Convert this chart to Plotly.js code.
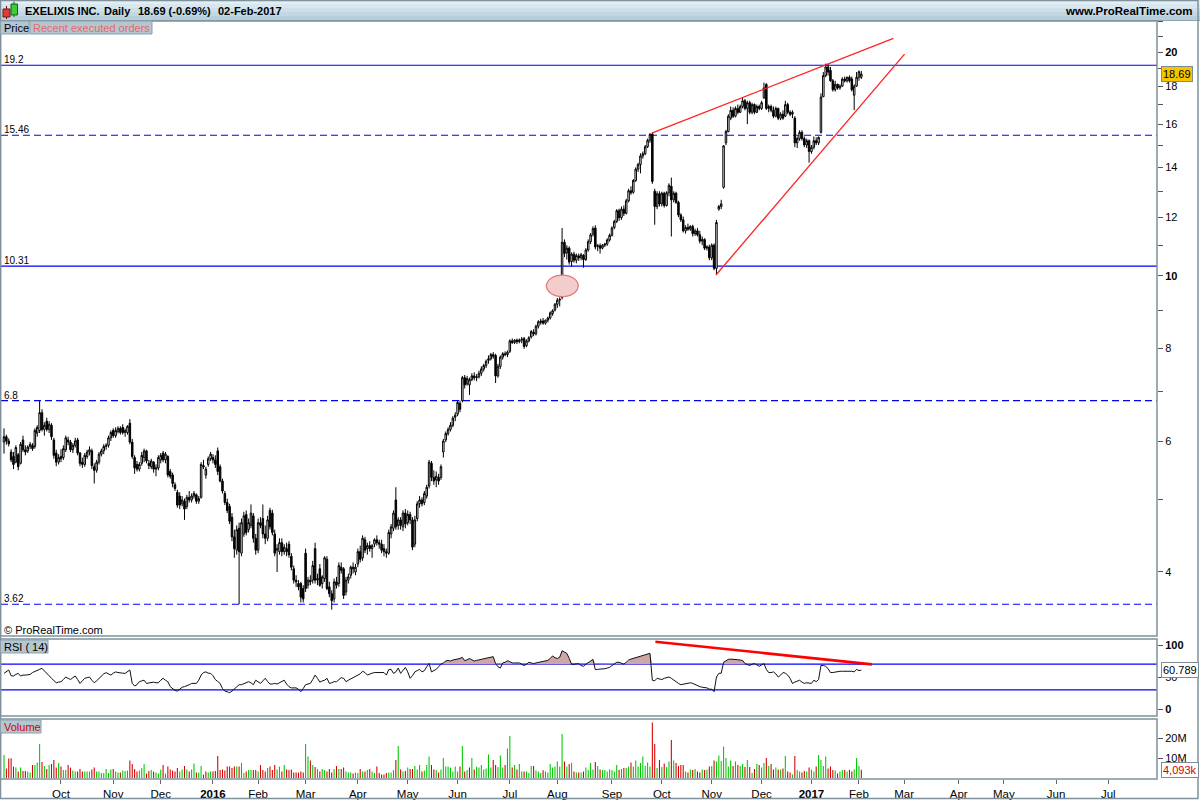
<!DOCTYPE html>
<html>
<head>
<meta charset="utf-8">
<script src="https://cdn.plot.ly/plotly-3.0.1.min.js"></script>
<style>
html,body{margin:0;padding:0;background:#ffffff;}
#chart{width:1200px;height:800px;}
</style>
</head>
<body>
<div id="chart"></div>
<script>
// ---------------- DATA ----------------
const instrument = 'EXELIXIS INC.';
const period = 'Daily';
const startDate = '2015-08-27';
const calendarEnd = '2017-08-01';
const holidays = ['2015-09-07','2015-11-26','2015-12-25','2016-01-01','2016-01-18','2016-02-15','2016-03-25','2016-05-30','2016-07-04','2016-09-05','2016-11-24','2016-12-26','2017-01-02','2017-01-16','2017-02-20','2017-04-14','2017-05-29','2017-07-04'];
const monthLabels = ['Oct','Nov','Dec','<b>2016</b>','Feb','Mar','Apr','May','Jun','Jul','Aug','Sep','Oct','Nov','Dec','<b>2017</b>','Feb','Mar','Apr','May','Jun','Jul'];

const openP = [
5.98,6.08,6.00,5.80,5.72,5.62,5.75,5.60,6.02,5.84,
5.82,5.90,5.92,5.90,6.15,6.20,6.55,6.22,6.38,6.22,
6.30,6.02,5.78,5.62,5.72,5.70,5.84,6.02,5.98,5.84,
5.92,6.02,5.78,5.62,5.58,5.72,5.80,5.82,5.54,5.48,
5.62,5.76,5.82,5.90,5.92,6.06,6.20,6.10,6.18,6.24,
6.26,6.16,6.16,6.34,5.98,5.70,5.58,5.50,5.60,5.70,
5.82,5.60,5.54,5.62,5.50,5.52,5.66,5.78,5.66,5.72,
5.46,5.40,5.24,5.12,5.06,4.94,4.98,4.90,5.04,5.00,
5.06,5.08,4.98,5.04,5.56,5.40,5.58,5.68,5.70,5.66,
5.82,5.54,5.30,5.10,4.96,4.90,4.74,4.46,4.28,4.58,
4.24,4.50,4.78,4.56,4.62,4.76,4.44,4.28,4.66,4.72,
4.50,4.44,4.84,4.80,4.50,4.28,4.26,4.38,4.26,4.30,
4.36,4.20,4.04,3.90,3.86,3.86,3.80,4.24,3.84,3.90,
3.90,4.30,3.90,4.04,3.86,3.92,4.16,3.82,3.74,3.68,
3.88,3.86,4.06,4.04,3.76,3.90,3.96,4.06,4.00,4.10,
4.26,4.18,4.42,4.30,4.34,4.30,4.36,4.42,4.38,4.36,
4.30,4.26,4.24,4.50,4.58,5.00,4.62,4.70,4.60,4.80,
4.66,4.78,4.70,4.36,4.72,4.94,5.00,4.96,5.06,5.22,
5.60,5.36,5.32,5.36,5.36,5.80,6.02,6.14,6.22,6.30,
6.46,6.52,6.74,6.80,7.30,7.16,7.14,7.26,7.34,7.30,
7.32,7.40,7.50,7.58,7.70,7.74,7.84,7.82,7.34,7.56,
7.78,7.86,7.84,7.92,8.18,8.14,8.20,8.16,8.20,8.24,
8.06,8.18,8.28,8.40,8.36,8.56,8.66,8.70,8.64,8.72,
8.78,8.90,9.00,9.16,9.28,9.36,11.10,10.74,10.90,10.46,
10.70,10.50,10.64,10.58,10.66,10.52,10.84,11.12,11.38,11.60,
10.96,10.98,10.90,11.00,11.04,11.18,11.34,11.62,11.84,12.24,
11.98,12.30,12.14,12.62,13.02,12.96,13.44,13.92,14.12,14.50,
14.60,14.92,15.22,15.52,13.00,12.40,12.90,12.50,12.92,12.44,
12.94,13.20,12.66,12.92,12.56,12.08,11.90,11.50,11.62,11.56,
11.66,11.40,11.50,11.36,11.14,11.20,10.90,10.94,10.58,11.00,
10.24,12.30,12.40,13.16,15.10,15.64,16.30,16.70,16.40,16.80,
16.60,16.90,17.20,16.80,17.10,16.60,17.00,16.60,16.90,16.80,
17.36,18.10,16.80,16.90,16.70,16.40,16.80,16.30,16.50,16.40,
17.00,16.60,16.50,16.30,15.10,15.30,15.60,15.30,15.00,15.20,
14.70,14.90,15.20,15.10,15.60,17.42,18.60,19.10,18.90,18.30,
17.80,18.10,17.90,18.00,18.40,18.30,18.50,18.40,17.50,18.00,
18.50,18.50];

const highP = [
6.24,6.12,6.05,5.85,5.80,5.92,5.78,5.98,6.10,5.92,
5.92,5.98,5.96,6.24,6.30,6.79,6.62,6.36,6.45,6.38,
6.34,6.06,5.84,5.76,5.85,5.92,6.10,6.08,6.02,5.96,
6.06,6.06,5.80,5.70,5.78,5.84,5.90,5.86,5.60,5.66,
5.80,5.86,5.94,5.96,6.10,6.20,6.24,6.26,6.28,6.28,
6.32,6.24,6.30,6.42,6.04,5.74,5.64,5.62,5.80,5.86,
5.84,5.66,5.68,5.64,5.58,5.74,5.78,5.82,5.80,5.74,
5.50,5.44,5.28,5.16,5.12,5.06,5.02,5.08,5.14,5.10,
5.14,5.10,5.06,5.62,5.66,5.54,5.72,5.80,5.76,5.74,
5.88,5.58,5.34,5.14,5.02,4.94,4.80,4.56,4.62,4.66,
4.72,4.82,4.84,4.72,4.93,4.80,4.50,4.72,4.74,4.93,
4.62,4.76,4.88,4.85,4.56,4.36,4.44,4.44,4.36,4.38,
4.40,4.24,4.08,3.96,3.90,3.88,3.84,4.30,3.94,3.96,
4.14,4.38,3.98,4.10,3.96,4.20,4.20,3.88,3.78,3.92,
3.94,4.12,4.12,4.06,3.94,3.98,4.08,4.12,4.10,4.30,
4.34,4.48,4.46,4.38,4.40,4.36,4.44,4.48,4.42,4.42,
4.36,4.30,4.56,4.64,4.84,5.20,4.74,4.74,4.84,4.86,
4.84,4.82,4.74,4.76,4.98,5.06,5.04,5.14,5.24,5.66,
5.64,5.48,5.46,5.42,5.58,6.04,6.18,6.26,6.36,6.48,
6.56,6.80,6.80,7.34,7.36,7.34,7.30,7.40,7.42,7.38,
7.46,7.56,7.62,7.72,7.82,7.88,7.90,7.86,7.62,7.82,
7.90,7.92,7.94,8.22,8.24,8.22,8.24,8.24,8.28,8.28,
8.22,8.30,8.46,8.48,8.60,8.72,8.76,8.78,8.74,8.82,
8.96,9.02,9.20,9.34,9.36,11.60,11.20,11.00,10.96,10.76,
10.78,10.72,10.72,10.74,10.70,10.90,11.20,11.42,11.66,11.70,
11.04,11.06,11.04,11.08,11.24,11.40,11.66,11.90,12.30,12.32,
12.40,12.44,12.70,13.10,13.20,13.50,14.00,14.20,14.62,14.70,
15.00,15.30,15.56,15.60,13.10,13.00,13.00,12.98,12.98,13.00,
13.32,13.56,13.00,12.98,12.62,12.14,12.02,11.70,11.76,11.70,
11.72,11.58,11.60,11.50,11.30,11.24,11.00,11.02,11.06,11.06,
11.90,12.46,12.66,15.00,15.72,16.50,16.90,16.86,16.90,17.00,
17.00,17.36,17.30,17.20,17.20,17.10,17.06,17.00,17.00,17.20,
18.20,18.16,17.00,17.00,16.90,16.90,16.84,16.60,16.70,17.20,
17.10,16.70,16.70,16.40,15.40,15.70,15.70,15.40,15.30,15.26,
15.00,15.40,15.36,15.40,17.60,18.80,19.30,19.30,19.10,18.40,
18.30,18.14,18.10,18.50,18.54,18.54,18.60,18.54,18.10,18.80,
18.90,18.86];

const lowP = [
5.77,5.93,5.90,5.62,5.50,5.60,5.48,5.58,5.80,5.74,
5.78,5.85,5.82,5.86,6.08,6.15,6.18,6.10,6.18,6.15,
6.02,5.68,5.55,5.58,5.62,5.66,5.80,5.92,5.80,5.78,
5.88,5.74,5.55,5.52,5.54,5.68,5.74,5.50,5.26,5.44,
5.58,5.72,5.76,5.84,5.88,6.00,6.06,6.06,6.14,6.12,
6.12,6.08,6.12,5.94,5.68,5.42,5.46,5.46,5.56,5.62,
5.60,5.50,5.50,5.44,5.38,5.48,5.60,5.62,5.60,5.36,
5.34,5.20,5.14,4.88,4.86,4.90,4.70,4.86,4.96,4.96,
5.02,4.94,4.94,5.02,5.50,5.34,5.54,5.64,5.60,5.52,
5.40,5.28,5.10,4.92,4.80,4.64,4.40,4.18,4.22,3.62,
4.20,4.46,4.48,4.52,4.58,4.38,4.22,4.24,4.58,4.44,
4.36,4.40,4.56,4.48,4.20,4.00,4.22,4.20,4.22,4.20,
4.18,4.02,3.86,3.82,3.78,3.64,3.64,3.76,3.80,3.84,
3.86,3.86,3.84,3.82,3.80,3.88,3.78,3.70,3.56,3.64,
3.80,3.82,3.98,3.68,3.72,3.86,3.92,3.98,3.96,4.06,
4.12,4.14,4.24,4.22,4.26,4.18,4.32,4.34,4.30,4.24,
4.20,4.18,4.22,4.44,4.54,4.56,4.56,4.56,4.54,4.58,
4.62,4.64,4.28,4.32,4.68,4.88,4.90,4.92,5.02,5.18,
5.30,5.24,5.20,5.24,5.32,5.70,5.98,6.10,6.18,6.26,
6.38,6.48,6.56,6.76,7.06,7.12,6.92,7.22,7.24,7.22,
7.28,7.34,7.44,7.52,7.62,7.70,7.74,7.18,7.30,7.50,
7.72,7.80,7.78,7.88,8.10,8.10,8.10,8.12,8.12,7.98,
8.02,8.14,8.24,8.30,8.32,8.50,8.60,8.60,8.60,8.66,
8.74,8.84,8.96,9.06,9.10,9.30,10.60,10.52,10.36,10.30,
10.42,10.40,10.48,10.50,10.26,10.48,10.78,11.04,11.30,10.86,
10.80,10.72,10.86,10.94,10.98,11.12,11.30,11.56,11.78,11.86,
11.90,12.04,12.10,12.56,12.86,12.90,13.38,13.80,13.74,14.38,
14.54,14.86,15.10,13.30,11.72,12.30,12.40,12.40,12.36,12.40,
12.80,11.30,12.56,12.50,12.00,11.82,11.44,11.40,11.50,11.50,
11.30,11.32,11.30,11.06,11.00,10.84,10.82,10.50,10.50,10.18,
10.03,12.24,12.30,13.10,15.00,15.60,16.20,16.30,16.34,16.50,
16.56,16.80,16.70,16.00,16.50,16.50,16.50,16.56,16.70,16.72,
17.30,16.72,16.60,16.60,16.30,16.34,16.20,16.20,16.22,16.36,
16.50,16.40,16.30,14.90,14.86,15.20,15.20,14.90,14.86,14.20,
14.60,14.80,15.00,15.00,15.55,17.40,18.50,18.60,18.24,17.70,
17.70,17.80,17.80,17.96,18.20,18.20,18.20,17.70,16.71,17.96,
18.30,18.40];

const closeP = [
6.08,6.00,5.95,5.66,5.58,5.88,5.54,5.94,5.84,5.80,
5.89,5.94,5.86,6.20,6.26,6.55,6.22,6.30,6.22,6.32,
6.08,5.74,5.62,5.70,5.68,5.86,6.06,5.98,5.84,5.92,
6.00,5.78,5.60,5.58,5.74,5.80,5.84,5.56,5.48,5.62,
5.76,5.82,5.90,5.92,6.06,6.16,6.10,6.20,6.24,6.16,
6.16,6.20,6.28,5.98,5.72,5.52,5.50,5.58,5.74,5.82,
5.64,5.56,5.64,5.50,5.52,5.70,5.74,5.66,5.76,5.40,
5.38,5.26,5.18,4.92,4.92,5.00,4.86,5.04,5.00,5.06,
5.10,4.98,5.02,5.58,5.54,5.50,5.68,5.76,5.66,5.58,
5.46,5.30,5.14,4.96,4.84,4.68,4.46,4.30,4.56,4.26,
4.66,4.76,4.52,4.66,4.80,4.44,4.28,4.66,4.62,4.50,
4.44,4.70,4.60,4.52,4.24,4.30,4.38,4.26,4.32,4.26,
4.22,4.06,3.90,3.88,3.82,3.70,3.68,3.80,3.90,3.88,
4.08,3.90,3.92,3.84,3.94,4.18,3.80,3.74,3.66,3.88,
3.84,4.08,4.02,3.72,3.90,3.94,4.06,4.04,4.06,4.26,
4.16,4.44,4.28,4.34,4.30,4.34,4.42,4.38,4.36,4.28,
4.26,4.24,4.52,4.60,4.80,4.60,4.70,4.62,4.80,4.64,
4.78,4.70,4.32,4.70,4.94,5.00,4.94,5.10,5.20,5.62,
5.36,5.30,5.38,5.30,5.54,6.00,6.14,6.22,6.30,6.44,
6.50,6.76,6.62,7.30,7.14,7.28,7.26,7.34,7.30,7.32,
7.40,7.50,7.58,7.68,7.74,7.84,7.80,7.34,7.56,7.78,
7.86,7.84,7.90,8.18,8.14,8.20,8.16,8.20,8.22,8.04,
8.18,8.26,8.42,8.36,8.56,8.68,8.70,8.64,8.72,8.78,
8.92,8.98,9.16,9.28,9.30,11.10,10.72,10.90,10.44,10.70,
10.50,10.66,10.58,10.68,10.52,10.84,11.12,11.36,11.58,10.94,
10.98,10.90,11.00,11.04,11.18,11.34,11.60,11.84,12.24,11.98,
12.30,12.14,12.62,13.02,12.94,13.44,13.92,14.12,14.50,14.60,
14.92,15.22,15.50,13.40,12.40,12.90,12.50,12.92,12.44,12.94,
13.24,12.66,12.92,12.56,12.08,11.90,11.50,11.62,11.56,11.66,
11.40,11.50,11.36,11.14,11.20,10.90,10.94,10.58,11.00,10.24,
11.80,12.40,12.50,14.96,15.64,16.40,16.70,16.40,16.80,16.60,
16.90,17.20,16.80,17.10,16.60,17.00,16.60,16.90,16.80,17.10,
17.90,16.80,16.90,16.70,16.40,16.80,16.30,16.50,16.30,17.00,
16.60,16.50,16.60,15.10,15.30,15.60,15.30,15.00,15.20,14.70,
14.90,15.20,15.10,15.36,17.40,18.60,19.10,18.80,18.30,17.80,
18.10,17.90,18.00,18.40,18.30,18.50,18.30,17.80,18.00,18.50,
18.82,18.69];

// volume in millions of shares
const volumeM = [
11.5,4.8,9.8,9.9,5.7,5.2,3.2,5.2,3.5,3.5,
3.2,2.7,6.5,6.5,7.8,17,8,6,4.5,6.5,
7,9,5.3,7.5,5.7,4,4,6.5,5.2,3.7,
3.2,3.2,4.5,3.2,3.2,3.2,3.2,4.3,5.2,3.2,
3.2,2.5,2.5,4.5,2.5,4.3,4.5,3.2,2.7,2.7,
3.7,3.5,3.7,8.7,7,4.5,3.2,3.7,5,7,
2.2,3.5,4,3.2,2.7,2.2,4.3,6.5,2.2,5.7,
4.3,3.7,3.2,5,3.2,4.3,6,4.3,3.2,4.3,
7.3,2.7,2.7,6,1.7,3.2,2.7,3.2,3.2,3.5,
11,4,4.3,3.7,5.7,5.7,5,5.7,5.7,5.7,
7.5,2.5,3.2,4,4,4,4,3.2,6.5,4,
3.2,5,5.7,4,6.5,4.3,5.7,3.2,6.5,4.3,
4,4.3,2.7,2.7,2.7,3.2,2.7,17,10.7,8.7,
6.5,5.5,4.5,3.2,4.5,4,3.2,4.5,2.7,4.5,
6,4.5,4.5,5.2,3.2,2.7,2.7,2.2,2.7,2.5,
4.5,3.2,3.2,4,4.5,3.2,2.5,5.7,2.5,1.7,
1.7,2.5,2.7,2.7,4,9,16,4.3,3.2,3.5,
5.2,4.5,4.5,6,4.3,6.5,3.2,3.7,6.5,10.7,
6.5,4.3,4,2.7,4.3,10,5.7,5.7,5.2,3.2,
5.7,3.2,5.7,16,3.2,4,5.2,10,4.3,5.7,
5.2,6.5,4.3,4.8,11.7,5.2,9,6.5,5.5,11.3,
5.2,6.5,14.7,21,5.2,6.5,4.3,7,3.2,3.2,
3.2,2.5,6,6,3.7,3.2,2.5,3.9,3.2,2.7,
7,5.2,5.7,8.3,5.7,22,8.3,5.7,7,7.6,
3.2,2.7,2.7,2.7,3.2,5.2,4,7.5,4.3,8,
6,4.3,4,4,3.2,4.3,4,3.2,6.5,4,
4.5,5,5,5.7,7.8,5.7,8.7,5.7,7.5,10.7,
6,7.8,5.7,27.7,17,5,9,5.5,7.2,5.5,
8.3,19,8.7,7.5,6,6.5,6.5,3.2,2.7,4.3,
4,4.5,3.2,2.7,4.3,4,4.3,5.7,6,8.7,
8.3,11.3,8.5,15.8,10,5.7,8.7,6,8.3,6.5,
6,7,5.5,9,5.5,2.5,4.5,7,6.5,5.2,
7.5,10,6,7,4.3,5.2,4.3,4.3,4.8,11,
3.2,2.7,1.7,11,4,3.2,2.7,3.5,3.2,5.2,
4.3,3.2,5.7,11.5,9,6,10.7,4.8,5.7,4,
3.7,2.2,3.2,4,4,3.2,4,3.2,4.3,10,
6,4.093];

const rsi14 = [
55.7,58,61,52,51.6,54,55.7,51.5,53,53,
53,54,57,59,61,62,63.5,60,57,52,
48,44,41,42,42.7,46,50,48,46,49,
51.6,46,40,44,48,49,50,45,41,44,
48,52,55,56.8,55,53,56,58,57,57,
56,55.7,58,61,40,36,38,42.7,44,45,
40,41,41,42,41,41,45,48,45,42.7,
35,32,29,28,31,34,35,36,38,40,
40,40,45,53,57,58,56,55.7,52,46,
43,40,32,28,27,25.5,28,31,34,38,
38,40,41,42.7,41,38,45,43,40,44,
48,43,39,39,40,39,41,43,45,39,
35,33,33,33,31,27,32,38,39,40,
46,53,48,42,44,45,48,40,41,42.7,
42.7,46,49,48,42.7,45,47,50,51,53,
55,59,57,53,55,56,57,57,57,57,
57,53,61.5,62,55.7,58,64,55.7,60,65,
58,48,52,58,60,62,58,60,66,71.4,
58,60,62,66,70,72,75,76,75,76.5,
77,77.6,79,80.7,75.5,77,79,77,75,76,
77,77.6,78,79,80,81,81.8,71,66,64,
72,73,75.5,74,72,72,72,72,70,68,
70,73,72,71,72,73,73,74,75,76,
79,83,80,79,81,91,89,87,79,70,
70,71,71,68,66.7,70,72,75,77.6,61.5,
62,62,62,63,64,65,68,71,73,73,
72,70,73,76.5,78,79,80,82,83,84,
85,85.5,87,45,44,48,47,46,48,49,
50,48,45,42,40,38,39,40,41,41,
40,38,37,35,34,34,33,31,31,27,
50,55.7,56,73,75,77.6,78,78,77.6,77,
76.5,76,71,70,68,70,71,69,66.7,69,
71,62,57,57,58,55,50,53,57,56,
53,48,40,42,44,45,42,40,41,40,
40,45,42.7,46,68,68,66.7,63,57,57,
58,58,59,59,59,60,60,59,58,62,
60,60.789];

// analyst drawings
const levelValues = [19.2, 15.46, 10.31, 6.8, 3.62];
const levelLabels = ['19.2', '15.46', '10.31', '6.8', '3.62'];
const levelDashed = [false, true, false, true, true];
const trendTopX = ['2016-09-27 12:00', '2017-02-23 00:00'];
const trendTopY = [15.57, 20.87];
const trendLowX = ['2016-11-03 07:12', '2017-03-01 16:48'];
const trendLowY = [10.03, 19.87];
const rsiTrendX = ['2016-09-28 19:12', '2017-02-09 00:00'];
const rsiTrendY = [105.2, 69.8];
const ellipseX = ['2016-07-25 21:36', '2016-08-12 07:12'];
const ellipseY = [9.38, 10.03];
const rsiBands = [70, 30];
const priceTicks = [4, 6, 8, 10, 12, 14, 16, 18, 20];
const priceTickText = ['4', '6', '8', '<b>10</b>', '12', '14', '16', '18', '<b>20</b>'];
const priceMinorTicks = [5, 7, 9, 11, 13, 15, 17, 19, 21, 22];
const rsiTicks = [0, 50, 100];
const rsiTickText = ['<b>0</b>', '50', '<b>100</b>'];
const volTicks = [10, 20];
const volTickText = ['10M', '20M'];

// ---------------- CALENDAR ----------------
function fmt(d) { return d.toISOString().slice(0, 10); }
const tradingDays = [];
for (let d = new Date(startDate + 'T00:00:00Z'); fmt(d) <= calendarEnd; d.setUTCDate(d.getUTCDate() + 1)) {
  const wd = d.getUTCDay();
  const s = fmt(d);
  if (wd === 0 || wd === 6 || holidays.includes(s)) continue;
  tradingDays.push(s);
}
const N = closeP.length;
const barDates = tradingDays.slice(0, N).map(s => s + ' 12:00');
const monthTickVals = [];
for (let i = 1; i < tradingDays.length; i++) {
  if (tradingDays[i].slice(0, 7) !== tradingDays[i - 1].slice(0, 7) && tradingDays[i] >= '2015-10-01') {
    monthTickVals.push(tradingDays[i] + ' 12:00');
  }
}
const tickVals = monthTickVals.slice(0, monthLabels.length);

// ---------------- GEOMETRY HELPERS (pixel -> paper) ----------------
const W = 1200, H = 800;
const px = x => x / W;
const py = y => 1 - y / H;
const xDom = [px(1), px(1157)];
const priceDom = [py(636), py(21)];
const rsiDom = [py(716), py(639)];
const volDom = [py(779), py(719)];
const FONT = 'Arial, "Liberation Sans", sans-serif';
const BORDER = '#7f919b';

// ---------------- TRACES ----------------
const volColors = closeP.map((c, i) => (c >= (i ? closeP[i - 1] : openP[0])) ? '#00c800' : '#d20000');
const traces = [
  {
    type: 'candlestick', x: barDates, open: openP, high: highP, low: lowP, close: closeP,
    xaxis: 'x', yaxis: 'y',
    increasing: {line: {color: '#000000', width: 1}, fillcolor: '#ffffff'},
    decreasing: {line: {color: '#000000', width: 1}, fillcolor: '#000000'},
    whiskerwidth: 0, showlegend: false, hoverinfo: 'skip'
  },
  {type: 'scatter', mode: 'lines', x: trendTopX, y: trendTopY, xaxis: 'x', yaxis: 'y',
   line: {color: '#ff2020', width: 1.3}, showlegend: false, hoverinfo: 'skip'},
  {type: 'scatter', mode: 'lines', x: trendLowX, y: trendLowY, xaxis: 'x', yaxis: 'y',
   line: {color: '#ff2020', width: 1.3}, showlegend: false, hoverinfo: 'skip'},
  {type: 'scatter', mode: 'lines', x: barDates, y: rsi14.map(() => rsiBands[0]), xaxis: 'x', yaxis: 'y2',
   line: {width: 0}, showlegend: false, hoverinfo: 'skip'},
  {type: 'scatter', mode: 'lines', x: barDates, y: rsi14.map(v => Math.max(v, rsiBands[0])), xaxis: 'x', yaxis: 'y2',
   line: {width: 0}, fill: 'tonexty', fillcolor: '#cfa6a6', showlegend: false, hoverinfo: 'skip'},
  {type: 'scatter', mode: 'lines', x: barDates, y: rsi14, xaxis: 'x', yaxis: 'y2',
   line: {color: '#111111', width: 1}, showlegend: false, hoverinfo: 'skip'},
  {type: 'scatter', mode: 'lines', x: rsiTrendX, y: rsiTrendY, xaxis: 'x', yaxis: 'y2',
   line: {color: '#ff0000', width: 2.6}, showlegend: false, hoverinfo: 'skip'},
  {type: 'bar', x: barDates, y: volumeM, xaxis: 'x', yaxis: 'y3',
   marker: {color: volColors, line: {width: 0}}, showlegend: false, hoverinfo: 'skip'}
];

// ---------------- SHAPES ----------------
const shapes = [];
// header gradient bands
const bandCols = ['#e3edf2', '#d8e6ed', '#cddfe8', '#c2d7e2', '#b7cfdb'];
bandCols.forEach((c, k) => shapes.push({type: 'rect', xref: 'paper', yref: 'paper',
  x0: 0, x1: 1, y0: py(4 * (k + 1)), y1: py(4 * k), fillcolor: c, line: {width: 0}, layer: 'below'}));
shapes.push({type: 'line', xref: 'paper', yref: 'paper', x0: 0, x1: 1, y0: py(20.5), y1: py(20.5), line: {color: '#8ea3ae', width: 1}});
// header icon (two candles)
shapes.push({type: 'line', xref: 'paper', yref: 'paper', x0: px(6.5), x1: px(6.5), y0: py(19), y1: py(6), line: {color: '#5a1010', width: 1}});
shapes.push({type: 'rect', xref: 'paper', yref: 'paper', x0: px(3), x1: px(10), y0: py(17), y1: py(9), fillcolor: '#e23a3a', line: {color: '#6a1a1a', width: 1}});
shapes.push({type: 'line', xref: 'paper', yref: 'paper', x0: px(14), x1: px(14), y0: py(17), y1: py(1.5), line: {color: '#1a5a1a', width: 1}});
shapes.push({type: 'rect', xref: 'paper', yref: 'paper', x0: px(11), x1: px(17.5), y0: py(15), y1: py(4), fillcolor: '#3ccc3c', line: {color: '#1a5a1a', width: 1}});

// price levels
levelValues.forEach((v, k) => shapes.push({type: 'line', xref: 'paper', yref: 'y',
  x0: xDom[0], x1: xDom[1], y0: v, y1: v, layer: 'below',
  line: {color: '#0000ff', width: 1.2, dash: levelDashed[k] ? '7px,4px' : 'solid'}}));
// RSI bands
rsiBands.forEach(v => shapes.push({type: 'line', xref: 'paper', yref: 'y2',
  x0: xDom[0], x1: xDom[1], y0: v, y1: v, layer: 'below', line: {color: '#0000ff', width: 1.2}}));
// ellipse
shapes.push({type: 'circle', xref: 'x', yref: 'y', x0: ellipseX[0], x1: ellipseX[1], y0: ellipseY[0], y1: ellipseY[1],
  fillcolor: '#f3cdcd', line: {color: '#e07c7c', width: 1.2}, layer: 'above'});
// panel borders
[[21, 636], [639, 716], [719, 779]].forEach(([t, b]) => shapes.push({type: 'rect', xref: 'paper', yref: 'paper',
  x0: px(0.5), x1: px(1157), y0: py(b), y1: py(t), line: {color: BORDER, width: 1.5}}));
// outer frame
shapes.push({type: 'rect', xref: 'paper', yref: 'paper', x0: px(0.5), x1: px(1198), y0: py(798.5), y1: py(0.5), line: {color: BORDER, width: 1.5}});
// tabs
const tabs = [[0, 29, 21, 34], [29.5, 152, 21, 34], [0, 48, 640, 653], [0, 41, 720, 733]];
tabs.forEach(([x0, x1, y0, y1]) => shapes.push({type: 'rect', xref: 'paper', yref: 'paper',
  x0: px(x0 + 0.5), x1: px(x1), y0: py(y1), y1: py(y0), fillcolor: '#b4c6d0', line: {color: '#8ba0ab', width: 1}}));

// ---------------- ANNOTATIONS ----------------
const last = closeP[N - 1], prev = closeP[N - 2];
const pct = (last - prev) / prev * 100;
const lastDate = new Date(tradingDays[N - 1] + 'T00:00:00Z');
const MON = ['Jan','Feb','Mar','Apr','May','Jun','Jul','Aug','Sep','Oct','Nov','Dec'];
const lastDateTxt = String(lastDate.getUTCDate()).padStart(2, '0') + '-' + MON[lastDate.getUTCMonth()] + '-' + lastDate.getUTCFullYear();

const ann = [];
function txt(text, x, y, opts) {
  ann.push(Object.assign({text: text, xref: 'paper', yref: 'paper', x: px(x), y: py(y), xanchor: 'left', yanchor: 'middle',
    showarrow: false, font: {family: FONT, size: 11, color: '#000'}}, opts || {}));
}
txt('<b>' + instrument + '</b>', 23, 11);
txt('<b>' + period + '</b>', 102, 11);
txt('<b>' + last.toFixed(2) + ' (' + pct.toFixed(2) + '%)</b>', 136, 11);
txt('<b>' + lastDateTxt + '</b>', 216, 11);
txt('<b>www.ProRealTime.com</b>', 1195, 11, {xanchor: 'right', font: {family: FONT, size: 11.5, color: '#000'}});
txt('Price', 1.5, 27.5);
txt('Recent executed orders', 31, 27.5, {font: {family: FONT, size: 11, color: '#e86868'}});
txt('RSI ( 14)', 2, 646.5);
txt('Volume', 2, 726.5, {font: {family: FONT, size: 11, color: '#d00000'}});
txt('\u00a9 ProRealTime.com', 1.5, 629.5);
levelValues.forEach((v, k) => ann.push({text: levelLabels[k], xref: 'paper', yref: 'y', x: px(1.5), y: Math.log10(v),
  xanchor: 'left', yanchor: 'bottom', yshift: -2, showarrow: false, font: {family: FONT, size: 10, color: '#000'}}));
// last value tags
ann.push({text: last.toFixed(2), xref: 'paper', yref: 'y', x: px(1161), y: Math.log10(last), xanchor: 'left', yanchor: 'middle',
  showarrow: false, bgcolor: '#f7c500', bordercolor: '#7c8c96', borderwidth: 1, borderpad: 1, font: {family: FONT, size: 11, color: '#000'}});
ann.push({text: rsi14[N - 1].toFixed(3), xref: 'paper', yref: 'y2', x: px(1161), y: rsi14[N - 1], xanchor: 'left', yanchor: 'middle',
  showarrow: false, bgcolor: '#ffffff', bordercolor: '#7c8c96', borderwidth: 1, borderpad: 1, font: {family: FONT, size: 11, color: '#000'}});
ann.push({text: Math.round(volumeM[N - 1] * 1000).toLocaleString('en-US') + 'k', xref: 'paper', yref: 'y3', x: px(1161), y: volumeM[N - 1],
  xanchor: 'left', yanchor: 'middle', showarrow: false, bgcolor: '#ffffff', bordercolor: '#7c8c96', borderwidth: 1, borderpad: 1,
  font: {family: FONT, size: 11, color: '#d00000'}});

// ---------------- LAYOUT ----------------
const yCommon = {side: 'right', anchor: 'x', showgrid: false, zeroline: false, showline: false, ticks: 'outside',
  ticklen: 5, tickwidth: 1, tickcolor: '#555', tickfont: {family: FONT, size: 11, color: '#000'}, automargin: false, fixedrange: true};
const layout = {
  width: W, height: H,
  margin: {l: 0, r: 0, t: 0, b: 0, pad: 0},
  paper_bgcolor: '#ffffff', plot_bgcolor: '#ffffff',
  showlegend: false, bargap: 0.55, boxgap: 0.1, dragmode: false,
  font: {family: FONT, size: 11, color: '#000'},
  xaxis: {
    type: 'date', domain: xDom, anchor: 'y3',
    range: ['2015-08-26 05:46', '2017-08-02 00:00'],
    rangebreaks: [{bounds: ['sat', 'mon']}, {values: holidays}],
    rangeslider: {visible: false},
    tickmode: 'array', tickvals: tickVals, ticktext: monthLabels,
    ticks: 'outside', ticklen: 4, tickcolor: '#666', tickfont: {family: FONT, size: 11.5, color: '#000'},
    showgrid: false, zeroline: false, showline: false, automargin: false, fixedrange: true
  },
  yaxis: Object.assign({}, yCommon, {
    domain: priceDom, type: 'log', range: [Math.log10(3.281), Math.log10(22.02)],
    tickmode: 'array', tickvals: priceTicks, ticktext: priceTickText,
    minor: {tickmode: 'array', tickvals: priceMinorTicks, ticks: 'outside', ticklen: 5, tickcolor: '#555', showgrid: false}
  }),
  yaxis2: Object.assign({}, yCommon, {
    domain: rsiDom, range: [-10.9, 109.4], tickmode: 'array', tickvals: rsiTicks, ticktext: rsiTickText
  }),
  yaxis3: Object.assign({}, yCommon, {
    domain: volDom, range: [-0.5, 29.5], tickmode: 'array', tickvals: volTicks, ticktext: volTickText
  }),
  shapes: shapes,
  annotations: ann
};

Plotly.newPlot('chart', traces, layout, {displayModeBar: false, staticPlot: true});
</script>
</body>
</html>
